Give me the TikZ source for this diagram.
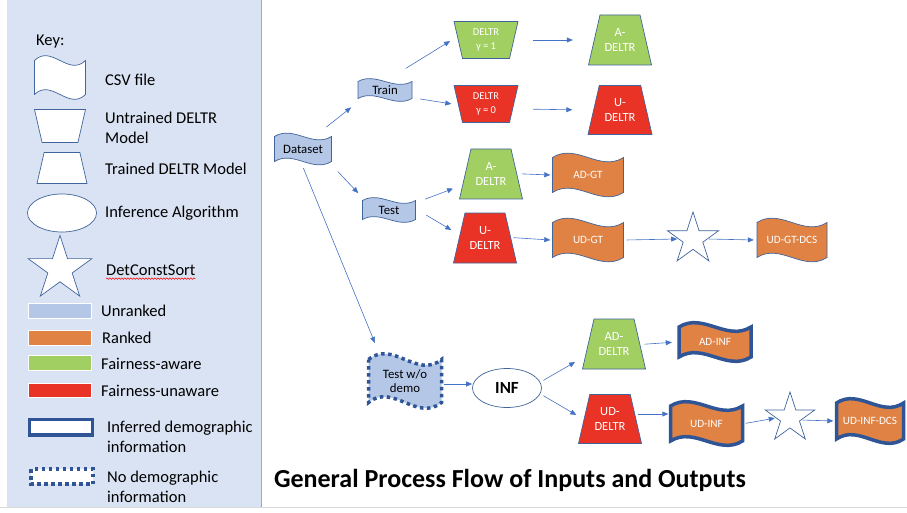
\documentclass[tikz,border=0pt]{standalone}
\usepackage{fontspec}
\setmainfont{Carlito}
\usetikzlibrary{shapes.geometric,arrows.meta,calc,decorations.pathmorphing}
\definecolor{keybg}{HTML}{DAE3F3}
\definecolor{keyline}{HTML}{8FAADC}
\definecolor{unranked}{HTML}{B4C7E7}
\definecolor{ranked}{HTML}{DF8244}
\definecolor{aware}{HTML}{A2CF62}
\definecolor{unaware}{HTML}{E83326}
\definecolor{outline}{HTML}{41649C}
\definecolor{infer}{HTML}{2F5597}
\definecolor{flowc}{HTML}{4472C4}
\tikzset{
  wave amp/.store in=\waveamp, wave amp=4pt,
  datafile/.style={inner sep=0pt,path picture={
    \filldraw[#1] let \p1=(path picture bounding box.south west),\p2=(path picture bounding box.north east),
      \n1={\waveamp},\n2={(\x2-\x1-4pt)/3},\n3={\waveamp*10/3} in
      (\x1+2pt,\y2-2pt-\n1) .. controls (\x1+2pt+\n2,\y2-2pt-\n1+\n3) and (\x1+2pt+2*\n2,\y2-2pt-\n1-\n3) .. (\x2-2pt,\y2-2pt-\n1)
      -- (\x2-2pt,\y1+2pt+\n1) .. controls (\x1+2pt+2*\n2,\y1+2pt+\n1-\n3) and (\x1+2pt+\n2,\y1+2pt+\n1+\n3) .. (\x1+2pt,\y1+2pt+\n1) -- cycle;}},
  trained/.style={inner sep=0pt,path picture={
    \filldraw[#1] let \p1=(path picture bounding box.south west),\p2=(path picture bounding box.north east),
      \n1={0.23*(\y2-\y1-4pt)} in
      (\x1+2pt,\y1+2pt) -- (\x2-2pt,\y1+2pt) -- (\x2-2pt-\n1,\y2-2pt) -- (\x1+2pt+\n1,\y2-2pt) -- cycle;}},
  untrained/.style={inner sep=0pt,path picture={
    \filldraw[#1] let \p1=(path picture bounding box.south west),\p2=(path picture bounding box.north east),
      \n1={0.23*(\y2-\y1-4pt)} in
      (\x1+2pt+\n1,\y1+2pt) -- (\x2-2pt-\n1,\y1+2pt) -- (\x2-2pt,\y2-2pt) -- (\x1+2pt,\y2-2pt) -- cycle;}},
  thinb/.style={draw=outline,line width=0.7pt},
  inferred/.style={draw=infer,line width=3.5pt},
  nodemo/.style={draw=infer,line width=3.5pt,dash pattern=on 3.5pt off 3.5pt}
}
\begin{document}
\begin{tikzpicture}[x=1pt,y=-1pt,>={Triangle[length=6pt,width=5pt]},
  algo/.style={ellipse,thinb,fill=white,inner sep=0pt},
  dcs/.style={star,star points=5,star point ratio=2.618,thinb,fill=white,inner sep=0pt},
  lbl/.style={text=white,align=center,font=\fontsize{12.5}{15}\selectfont},
  small/.style={text=white,align=center,font=\fontsize{10.5}{14}\selectfont},
  tag/.style={text=white,align=center,font=\fontsize{11.2}{13}\selectfont},
  dark/.style={text=black,align=center,font=\fontsize{12.8}{14.5}\selectfont},
  keytext/.style={anchor=west,inner sep=0pt,align=left,font=\fontsize{16.5}{20}\selectfont},
  link/.style={->,draw=flowc,line width=0.6pt}]
\useasboundingbox (0,0) rectangle (907,513);
\fill[keybg] (7,0) rectangle (261,507);
\draw[keyline] (261,0) -- (261,507);
\draw[black!15] (0,507.5) -- (907,507.5);

\node[keytext] (key) at (36,42) {Key:};
\node[fill=keybg,wave amp=5pt,datafile={fill=white,thinb},minimum width=55,minimum height=48] (kcsv) at (60,77.5) {};
\node[keytext] (kcsvt) at (105,80) {CSV file};
\node[fill=keybg,untrained={fill=white,thinb},minimum width=55,minimum height=37] (kuntr) at (60,126) {};
\node[keytext] (kuntrt) at (105,128) {Untrained DELTR\\Model};
\node[fill=keybg,trained={fill=white,thinb},minimum width=54,minimum height=35] (ktr) at (62,168) {};
\node[keytext] (ktrt) at (105,169) {Trained DELTR Model};
\node[algo,minimum width=69,minimum height=38] (kalgo) at (62,213) {};
\node[keytext] (kalgot) at (105,213) {Inference Algorithm};
\node[dcs,minimum size=67] (kdcs) at (60,269) {};
\node[keytext] (kdcst) at (106,270) {DetConstSort};
\draw[red,line width=0.5pt,decorate,decoration={snake,amplitude=0.8pt,segment length=3pt}] ([yshift=-3pt]kdcst.south west) -- ([yshift=-3pt]kdcst.south east);
\fill[unranked,draw=white] (28,303) rectangle (91,318);
\node[keytext] (kunr) at (101,311) {Unranked};
\fill[ranked,draw=white] (28,330) rectangle (91,345);
\node[keytext] (kran) at (102,338) {Ranked};
\fill[aware,draw=white] (28,355) rectangle (91,370);
\node[keytext] (kaw) at (101,364) {Fairness-aware};
\fill[unaware,draw=white] (28,383) rectangle (91,397);
\node[keytext] (kunaw) at (101,391) {Fairness-unaware};
\draw[inferred,fill=white] (29.5,419.5) rectangle (92.5,435);
\node[keytext] (kinf) at (107,437) {Inferred demographic\\information};
\draw[nodemo,fill=white] (31,469) rectangle (93,484);
\node[keytext] (knod) at (107,487) {No demographic\\information};

\node[fill=white,wave amp=3.5pt,datafile={fill=unranked,thinb},minimum width=61,minimum height=36,dark] (dataset) at (303,149) {Dataset};
\node[fill=white,wave amp=3pt,datafile={fill=unranked,thinb},minimum width=58,minimum height=27,dark] (train) at (385,90) {Train};
\node[fill=white,wave amp=3pt,datafile={fill=unranked,thinb},minimum width=57,minimum height=29,dark] (test) at (389,210) {Test};
\node[fill=white,untrained={fill=aware,thinb},minimum width=68,minimum height=41,small] (deltra) at (486,40) {DELTR\\γ = 1};
\node[fill=white,untrained={fill=unaware,thinb},minimum width=68,minimum height=41,small] (deltru) at (486,104) {DELTR\\γ = 0};
\node[fill=white,trained={fill=aware,thinb},minimum width=67,minimum height=54,lbl] (adeltr) at (620,40) {A-\\DELTR};
\node[fill=white,trained={fill=unaware,thinb},minimum width=68,minimum height=53,lbl] (udeltr) at (620,110) {U-\\DELTR};
\node[fill=white,trained={fill=aware,thinb},minimum width=67,minimum height=54,lbl] (tadeltr) at (491,174) {A-\\DELTR};
\node[fill=white,trained={fill=unaware,thinb},minimum width=67,minimum height=54,lbl] (tudeltr) at (485,238) {U-\\DELTR};
\node[fill=white,wave amp=4.5pt,datafile={fill=ranked,thinb},minimum width=75,minimum height=48,tag] (adgt) at (588,175) {AD-GT};
\node[fill=white,wave amp=4.5pt,datafile={fill=ranked,thinb},minimum width=75,minimum height=48,tag] (udgt) at (588,240) {UD-GT};
\node[dcs,minimum size=54] (dcsa) at (693,239) {};
\node[fill=white,wave amp=4.5pt,datafile={fill=ranked,thinb},minimum width=74,minimum height=48,tag] (udgtdcs) at (792,240) {UD-GT-DCS};

\node[fill=white,wave amp=6pt,datafile={fill=unranked,nodemo},minimum width=77,minimum height=59,dark] (testwo) at (405,381) {Test w/o\\demo};
\node[algo,minimum width=69,minimum height=39,font=\bfseries\fontsize{17}{20}\selectfont] (inf) at (507,388) {INF};
\node[fill=white,trained={fill=aware,thinb},minimum width=67,minimum height=54,lbl] (addeltr) at (614,344) {AD-\\DELTR};
\node[fill=white,trained={fill=unaware,thinb},minimum width=67,minimum height=53,lbl] (uddeltr) at (610,419) {UD-\\DELTR};
\node[fill=white,wave amp=4.5pt,datafile={fill=ranked,inferred},minimum width=76,minimum height=43,tag] (adinf) at (715,342) {AD-INF};
\node[fill=white,wave amp=4.5pt,datafile={fill=ranked,inferred},minimum width=76,minimum height=48,tag] (udinf) at (706.5,423.5) {UD-INF};
\node[dcs,minimum size=52] (dcsb) at (790,418) {};
\node[fill=white,wave amp=4.5pt,datafile={fill=ranked,inferred},minimum width=71,minimum height=49,tag] (udinfdcs) at (870,421) {UD-INF-DCS};

\node[anchor=base,inner sep=0pt,font=\bfseries\fontsize{26}{30}\selectfont] (title) at (510,487) {General Process Flow of Inputs and Outputs};

\draw[link,shorten <=6,shorten >=6] ([xshift=-12pt]dataset.north east) -- (train.south west);
\draw[link,shorten <=15,shorten >=2] ([xshift=8pt]train.north) -- (deltra.west);
\draw[link,shorten <=6,shorten >=0.5] ([yshift=-8pt]train.east) -- (deltru.west);
\draw[link,shorten <=13,shorten >=13.5] (deltra.east) -- (adeltr.west);
\draw[link,shorten <=13,shorten >=13.5] ([yshift=-5pt]deltru.east) -- (udeltr.west);
\draw[link,shorten <=6,shorten >=3] (dataset.south east) -- (test.north west);
\draw[link,shorten <=1,shorten >=9] (dataset.south) -- ([xshift=12pt]testwo.north west);
\draw[link,shorten <=8,shorten >=4.5] ([yshift=8pt]test.east) -- ([yshift=-13pt]tadeltr.west);
\draw[link,shorten <=10,shorten >=0] (test.east) -- ([yshift=8pt]tudeltr.west);
\draw[link,shorten <=-3,shorten >=0] (tadeltr.east) -- (adgt.west);
\draw[link,shorten <=-5,shorten >=0] (tudeltr.east) -- (udgt.west);
\draw[link,shorten <=1,shorten >=1] (udgt.east) -- (dcsa.west);
\draw[link,shorten <=1,shorten >=1] (dcsa.east) -- (udgtdcs.west);
\draw[link,shorten <=0,shorten >=0] ([yshift=-3pt]testwo.east) -- ([yshift=-3pt]testwo.east -| inf.west);
\draw[link,shorten <=3.5,shorten >=6] (inf.10) -- ([yshift=-15pt]addeltr.west);
\draw[link,shorten <=3.5,shorten >=0] (inf.-10) -- ([yshift=4pt]uddeltr.west);
\draw[link,shorten <=-3,shorten >=5] (addeltr.east) -- (adinf.west);
\draw[link,shorten <=-6,shorten >=0] ([yshift=5pt]uddeltr.east) -- ([yshift=9.5pt]udinf.west);
\draw[link,shorten <=1,shorten >=1] (udinf.east) -- (dcsb.west);
\draw[link,shorten <=1,shorten >=1] (dcsb.-10) -- (udinfdcs.west);
\end{tikzpicture}
\end{document}
